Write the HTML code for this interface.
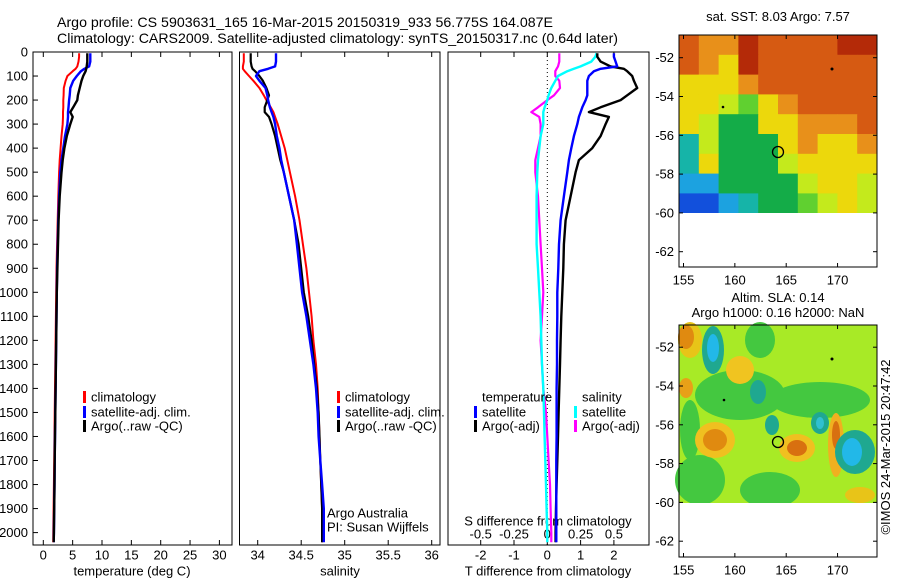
<!DOCTYPE html>
<html><head><meta charset="utf-8"><style>
html,body{margin:0;padding:0;background:#fff;}
svg{display:block;font-family:"Liberation Sans",Arial,sans-serif;}
text{font-size:13px;fill:#000;}
</style></head><body>
<svg id="fig" width="900" height="580" viewBox="0 0 900 580" xmlns="http://www.w3.org/2000/svg">
<rect width="900" height="580" fill="#fff"/>
<text x="57" y="27" textLength="496" lengthAdjust="spacingAndGlyphs" style="font-size:14px">Argo profile: CS 5903631_165 16-Mar-2015 20150319_933 56.775S 164.087E</text>
<text x="57" y="43" textLength="561" lengthAdjust="spacingAndGlyphs" style="font-size:14px">Climatology: CARS2009. Satellite-adjusted climatology: synTS_20150317.nc (0.64d later)</text>

<!-- Map 1: SST -->
<g>
<g id="map1cells"></g>
<rect x="679" y="213" width="198" height="54" fill="#fff"/>
<circle cx="778" cy="152" r="5.5" fill="none" stroke="#000" stroke-width="1.3"/>
<circle cx="832" cy="69" r="1.5" fill="#000"/><circle cx="723" cy="107" r="1.3" fill="#000"/>
<rect x="679" y="35" width="198" height="232" fill="none" stroke="#000"/>
<text x="778" y="21" text-anchor="middle">sat. SST: 8.03 Argo: 7.57</text>
</g>
<!-- Map 2: SLA -->
<g>
<rect x="679" y="325" width="198" height="178" fill="#a8ea26"/>
<g id="map2blobs"></g>
<rect x="679" y="503" width="198" height="54" fill="#fff"/>
<circle cx="778" cy="442" r="5.5" fill="none" stroke="#000" stroke-width="1.3"/>
<circle cx="832" cy="359" r="1.5" fill="#000"/><circle cx="724" cy="400" r="1.3" fill="#000"/>
<rect x="679" y="325" width="198" height="232" fill="none" stroke="#000"/>
<text x="778" y="302" text-anchor="middle">Altim. SLA: 0.14</text>
<text x="778" y="317" text-anchor="middle">Argo h1000: 0.16 h2000: NaN</text>
</g>
<text transform="translate(890,447) rotate(-90)" text-anchor="middle">©IMOS 24-Mar-2015 20:47:42</text>
<g id="dyn"></g>
</svg>
<script>
const depths=[5,20,40,60,70,80,100,120,150,180,200,230,250,270,300,350,400,450,500,600,700,800,900,1000,1100,1200,1300,1400,1500,1600,1700,1800,1900,2000,2040];
const tempClim=[6.1,6.1,6.0,5.8,5.5,5.0,4.1,3.8,3.5,3.45,3.4,3.4,3.35,3.35,3.3,3.1,2.95,2.8,2.7,2.55,2.45,2.35,2.25,2.2,2.15,2.1,2.05,2.0,1.95,1.9,1.85,1.8,1.75,1.7,1.68];
const tempSat=[8.0,8.0,8.0,7.8,7.0,6.4,5.7,5.1,4.6,4.5,4.4,4.3,4.2,4.2,4.1,3.7,3.4,3.1,2.9,2.7,2.55,2.45,2.35,2.3,2.25,2.2,2.15,2.1,2.05,2.0,1.95,1.9,1.85,1.8,1.78];
const tempArgo=[7.5,7.5,7.5,7.4,7.3,7.2,6.8,6.5,6.2,5.9,5.8,5.1,4.6,5.0,4.6,4.0,3.6,3.3,3.1,2.8,2.6,2.5,2.4,2.3,2.25,2.2,2.15,2.1,2.05,2.0,1.95,1.9,1.85,1.8,1.78];
const salClim=[33.84,33.84,33.84,33.83,33.83,33.85,33.9,33.95,34.02,34.07,34.1,34.15,34.18,34.2,34.23,34.27,34.31,34.34,34.37,34.43,34.48,34.52,34.56,34.59,34.62,34.64,34.67,34.69,34.7,34.71,34.72,34.73,34.74,34.74,34.74];
const salSat=[34.21,34.21,34.21,34.2,34.12,34.02,33.98,34.02,34.09,34.11,34.12,34.14,34.16,34.18,34.2,34.22,34.25,34.27,34.3,34.36,34.42,34.45,34.48,34.51,34.56,34.6,34.64,34.67,34.69,34.7,34.72,34.74,34.76,34.76,34.76];
const salArgo=[33.92,33.92,33.92,33.93,33.94,33.97,34.02,34.06,34.1,34.13,34.11,34.08,34.08,34.13,34.16,34.2,34.23,34.26,34.3,34.36,34.42,34.47,34.5,34.53,34.58,34.62,34.65,34.68,34.7,34.71,34.72,34.73,34.74,34.74,34.74];
const dTArgo=[1.5,1.5,1.6,1.9,2.3,2.4,2.55,2.6,2.7,2.4,2.2,1.6,1.25,1.85,1.75,1.6,1.35,0.95,0.85,0.7,0.55,0.5,0.48,0.45,0.42,0.4,0.38,0.36,0.34,0.32,0.3,0.28,0.26,0.25,0.25];
const dTSat=[2.0,2.0,2.05,2.1,1.6,1.4,1.25,1.2,1.2,1.2,1.15,1.05,1.0,0.95,0.9,0.8,0.72,0.65,0.6,0.5,0.4,0.35,0.33,0.3,0.3,0.29,0.29,0.28,0.28,0.28,0.27,0.27,0.27,0.27,0.27];
const dSSat=[0.37,0.36,0.33,0.25,0.2,0.15,0.08,0.06,0.03,0.01,0,-0.02,-0.03,-0.03,-0.03,-0.05,-0.06,-0.07,-0.075,-0.08,-0.08,-0.08,-0.07,-0.06,-0.05,-0.045,-0.04,-0.03,-0.025,-0.02,-0.015,-0.01,-0.005,0,0];
const dSArgo=[0.09,0.09,0.09,0.08,0.07,0.06,0.06,0.09,0.095,0.05,0.0,-0.07,-0.12,-0.06,-0.05,-0.05,-0.07,-0.09,-0.09,-0.07,-0.06,-0.05,-0.04,-0.03,-0.04,-0.05,-0.04,-0.03,-0.01,0,0.01,0.02,0.025,0.03,0.03];
const depthTicks=[0,100,200,300,400,500,600,700,800,900,1000,1100,1200,1300,1400,1500,1600,1700,1800,1900,2000];
const tempTicks=[0,5,10,15,20,25,30];
const salTicks=[34,34.5,35,35.5,36];
const dTTicks=[-2,-1,0,1,2];
const dSTicks=[-0.5,-0.25,0,0.25,0.5];
const latTicks=[-52,-54,-56,-58,-60,-62];
const lonTicks=[155,160,165,170];

const NS='http://www.w3.org/2000/svg';
const dyn=document.getElementById('dyn');
function mk(tag,attrs,parent,txt){const e=document.createElementNS(NS,tag);for(const k in attrs)e.setAttribute(k,attrs[k]);if(txt!==undefined)e.textContent=txt;(parent||dyn).appendChild(e);return e;}
const yD=d=>52+0.2403*d;
const xT=t=>43.3+5.87*t;
const xS=s=>257.7+87*(s-34);
const xDT=t=>547.3+33.3*t;
const xDS=s=>547.3+133.2*s;
const TOP=52,BOT=545;
const panels=[{x0:33,x1:232,n:'temperature-panel'},{x0:239.5,x1:440,n:'salinity-panel'},{x0:448,x1:649,n:'difference-panel'}];

function series(xs,fx,color,name,w){
  const pts=xs.map((v,i)=>fx(v).toFixed(1)+','+yD(depths[i]).toFixed(1)).join(' ');
  const p=mk('polyline',{points:pts,fill:'none',stroke:color,'stroke-width':w||2.2,'stroke-linejoin':'round'});
  
  
}
function xticks(ticks,fx,labelY,fmt){
  ticks.forEach(t=>{const x=fx(t);
    mk('line',{x1:x,x2:x,y1:TOP,y2:TOP+5,stroke:'#000'});
    mk('line',{x1:x,x2:x,y1:BOT,y2:BOT-5,stroke:'#000'});
    const l=mk('text',{x:x,y:labelY,'text-anchor':'middle','dominant-baseline':'central'},null,fmt?fmt(t):String(t));
    
    
  });
}
// frames
panels.forEach(p=>{const r=mk('rect',{x:p.x0,y:TOP,width:p.x1-p.x0,height:BOT-TOP,fill:'none',stroke:'#000'});
  
  });
// depth axis
depthTicks.forEach(d=>{const y=yD(d);
  mk('line',{x1:33,x2:38,y1:y,y2:y,stroke:'#000'});
  const l=mk('text',{x:28,y:y,'text-anchor':'end','dominant-baseline':'central'},null,String(d));
  
  });
xticks(tempTicks,xT,555);
xticks(salTicks,xS,555);
xticks(dTTicks,xDT,555);
dSTicks.forEach(s=>{const l=mk('text',{x:xDS(s),y:534,'text-anchor':'middle','dominant-baseline':'central'},null,String(s).replace('0.','0.').replace(/^-0\./,'-0.'));
  
  });
// zero dotted line
const z=mk('line',{x1:xDT(0),x2:xDT(0),y1:TOP,y2:BOT,stroke:'#000','stroke-dasharray':'1,3'});


// axis titles
[[132,571,'temperature (deg C)','temperature-axis-title'],[340,571,'salinity','salinity-axis-title'],[548,571,'T difference from climatology','t-diff-axis-title'],[548,521,'S difference from climatology','s-diff-axis-title'],[327,513,'Argo Australia','credit-line-1'],[327,527,'PI: Susan Wijffels','credit-line-2']].forEach(a=>{
  const t=mk('text',{x:a[0],y:a[1],'text-anchor':a[3].startsWith('credit')?'start':'middle','dominant-baseline':'central'},null,a[2]);
  
  });
// series
series(tempClim,xT,'#ff0000','temp-climatology-line',2);
series(tempSat,xT,'#0000ff','temp-satellite-line',2.4);
series(tempArgo,xT,'#000000','temp-argo-line',2.4);
series(salClim,xS,'#ff0000','sal-climatology-line',2);
series(salArgo,xS,'#000000','sal-argo-line',2.2);
series(salSat,xS,'#0000ff','sal-satellite-line',2.4);
series(dSArgo,xDS,'#ff00ff','s-diff-argo-line',2.2);
series(dSSat,xDS,'#00ffff','s-diff-satellite-line',2.4);
series(dTArgo,xDT,'#000000','t-diff-argo-line',2.4);
series(dTSat,xDT,'#0000ff','t-diff-satellite-line',2.4);
// legends
function legend(x,ys,items,group){items.forEach((it,i)=>{
  if(it[1]){const m=mk('rect',{x:x-8,y:ys[i]-6,width:3,height:12,fill:it[1]});
    
    }
  const t=mk('text',{x:x,y:ys[i],'dominant-baseline':'central'},null,it[0]);
  
  });}
const ly=[397,412,426];
legend(91,ly,[['climatology','#f00'],['satellite-adj. clim.','#00f'],['Argo(..raw -QC)','#000']],'temp-legend');
legend(345,ly,[['climatology','#f00'],['satellite-adj. clim.','#00f'],['Argo(..raw -QC)','#000']],'sal-legend');
legend(482,ly,[['temperature',null],['satellite','#00f'],['Argo(-adj)','#000']],'t-diff-legend');
legend(582,ly,[['salinity',null],['satellite','#0ff'],['Argo(-adj)','#f0f']],'s-diff-legend');
// map axes
[[35,267,21],[325,557,311]].forEach((m,k)=>{
  latTicks.forEach(lat=>{const y=m[0]+22.7+19.4*(-52-lat)+ (k? -0.5:0);
    mk('line',{x1:679,x2:683,y1:y,y2:y,stroke:'#000'});mk('line',{x1:873,x2:877,y1:y,y2:y,stroke:'#000'});
    const l=mk('text',{x:674,y:y,'text-anchor':'end','dominant-baseline':'central'},null,String(lat));
    
    });
  lonTicks.forEach(lon=>{const x=683.5+10.27*(lon-155);
    mk('line',{x1:x,x2:x,y1:m[0],y2:m[0]+4,stroke:'#000'});mk('line',{x1:x,x2:x,y1:m[1],y2:m[1]-4,stroke:'#000'});
    const l=mk('text',{x:x,y:m[1]+13,'text-anchor':'middle','dominant-baseline':'central'},null,String(lon));
    
    });
});
// map1 coarse cells
const sstRows=["OooROOOORR","OoYROOOOOO","YYYoOOOOOO","YYygYoOOOO","YyGGYYoooO","CyGGGYoYYo","CYGGGyYYYY","ccGGGGyYYy","BBcCGGgyYy"];
const pal={R:'#b42a08',O:'#d65a12',o:'#e8901a',Y:'#ecd80c',y:'#c4ea1c',g:'#60d030',G:'#14ac48',C:'#16b4a8',c:'#1ca2e0',B:'#1250dc'};
const m1=document.getElementById('map1cells');
sstRows.forEach((row,r)=>{[...row].forEach((ch,c)=>{mk('rect',{x:679+c*19.8,y:35+r*19.8,width:20.3,height:20.3,fill:pal[ch]},m1);});});
// map2 blobs
const m2=document.getElementById('map2blobs');
[['#44c840',740,395,45,25],['#44c840',700,480,25,25],['#44c840',770,490,30,18],['#44c840',820,400,50,18],['#44c840',760,340,15,18],['#44c840',690,430,10,30],
 ['#e8c418',690,340,12,18],['#e08a10',686,337,8,12],['#1fa890',713,350,11,24],['#22b8e8',713,348,6,14],['#f0c420',740,370,14,14],['#e8a018',686,388,7,10],
 ['#1fa890',758,392,8,12],['#f0c020',715,440,20,18],['#e08a10',715,440,12,11],['#f0c020',797,448,18,14],['#d87010',797,448,10,8],['#f0b020',836,445,8,32],['#d87010',836,435,4,14],
 ['#1fa890',855,452,20,22],['#22b8e8',852,452,10,14],['#1fa890',820,423,9,11],['#30c0d0',820,423,4,6],['#1fa890',772,425,7,10],['#e8c418',860,495,15,8]].forEach(b=>{
  mk('ellipse',{cx:b[1],cy:b[2],rx:b[3],ry:b[4],fill:b[0]},m2);});
</script>
</body></html>
